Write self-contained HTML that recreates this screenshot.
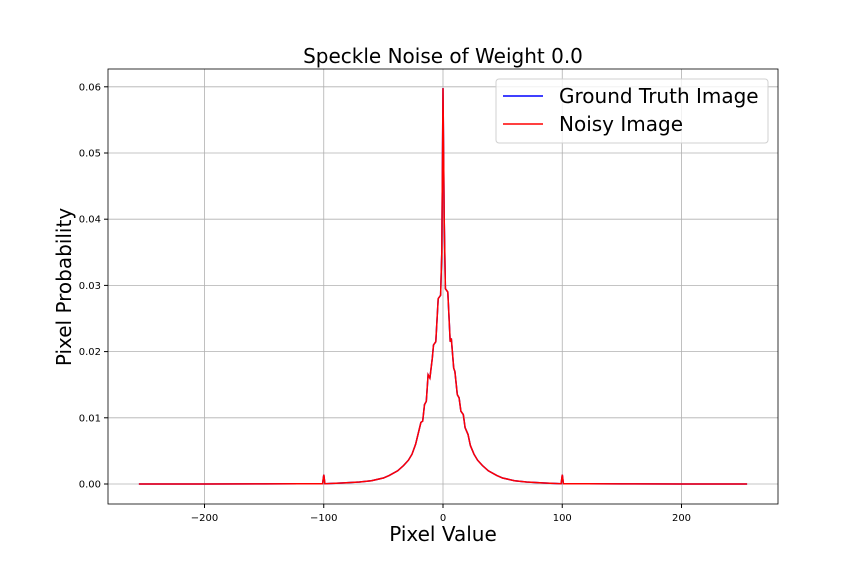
<!DOCTYPE html>
<html><head><meta charset="utf-8"><style>
body{margin:0;background:#fff;}
svg text{font-family:"DejaVu Sans","Liberation Sans",sans-serif;}
</style></head><body>
<svg width="864" height="576">
<g id="grid"></g><g id="series"></g><g id="axes"></g>
</svg>
<script>
const xTicks=[-200,-100,0,100,200];
const yTicks=[0.00,0.01,0.02,0.03,0.04,0.05,0.06];
const pxVals=[-255,-200,-150,-120,-101,-100,-99,-85,-70,-60,-50,-45,-38,-33,-29,-26,-23,-21,-18.5,-17,-15.5,-14,-12.5,-11,-9,-8,-6,-4,-2,-1,0,1,2,4,6,7,9,10,12,13.5,15,17,18.5,21,23,26,29,33,38,45,50,60,70,85,99,100,101,120,150,200,255];
const probs=[0,0,0.00001,0.00003,0.00005,0.0014,0.00005,0.00015,0.0003,0.0005,0.0009,0.0013,0.002,0.0028,0.0036,0.0045,0.006,0.0075,0.0093,0.0095,0.012,0.0125,0.0165,0.016,0.019,0.021,0.0215,0.028,0.0285,0.035,0.0598,0.04,0.0295,0.029,0.0215,0.022,0.0175,0.017,0.0135,0.013,0.011,0.0105,0.0085,0.0075,0.0058,0.0045,0.0036,0.0028,0.002,0.0013,0.0009,0.0005,0.0003,0.00015,0.00005,0.0014,0.00005,0.00003,0.00001,0,0];
const L=108,R=778,T=69,B=504;
const X=v=>443+v*1.1925;
const Y=v=>484-v*6620;
const NS="http://www.w3.org/2000/svg";
function mk(p,tag,a,txt){const e=document.createElementNS(NS,tag);for(const k in a)e.setAttribute(k,a[k]);if(txt!==undefined)e.textContent=txt;p.appendChild(e);return e;}
const g=document.getElementById('grid'),s=document.getElementById('series'),ax=document.getElementById('axes');
xTicks.forEach(t=>{const l=mk(g,'line',{x1:X(t),x2:X(t),y1:T,y2:B,stroke:'#b0b0b0','stroke-width':0.8});

mk(ax,'line',{x1:X(t),x2:X(t),y1:B,y2:B+4,stroke:'#000'});
const tx=mk(ax,'text',{x:X(t),y:B+17,'font-size':10,'text-anchor':'middle'},String(t).replace('-','−'));
});
yTicks.forEach(t=>{const l=mk(g,'line',{x1:L,x2:R,y1:Y(t),y2:Y(t),stroke:'#b0b0b0','stroke-width':0.8});

mk(ax,'line',{x1:L-4,x2:L,y1:Y(t),y2:Y(t),stroke:'#000'});
const tx=mk(ax,'text',{x:L-7,y:Y(t)+3.5,'font-size':10,'text-anchor':'end'},t.toFixed(2));
});
const pts=pxVals.map((v,i)=>X(v).toFixed(1)+','+Y(probs[i]).toFixed(1)).join(' ');
const b=mk(s,'polyline',{points:pts,fill:'none',stroke:'#0000ff','stroke-width':1.5});

const r=mk(s,'polyline',{points:pts,fill:'none',stroke:'#ff0000','stroke-width':1.5});

const fr=mk(ax,'rect',{x:L,y:T,width:R-L,height:B-T,fill:'none',stroke:'#000','stroke-width':0.8});

let e=mk(ax,'text',{x:443,y:63,'font-size':20,'text-anchor':'middle'},'Speckle Noise of Weight 0.0');

e=mk(ax,'text',{x:443,y:541,'font-size':20,'text-anchor':'middle'},'Pixel Value');

e=mk(ax,'text',{x:0,y:0,'font-size':20,'text-anchor':'middle',transform:'translate(71,287) rotate(-90)'},'Pixel Probability');

const lg=mk(ax,'g',{});

mk(lg,'rect',{x:496,y:79,width:272,height:64,rx:3,fill:'#fff','fill-opacity':0.8,stroke:'#d0d0d0'});
mk(lg,'line',{x1:503,x2:543,y1:96,y2:96,stroke:'#0000ff','stroke-width':1.5});
e=mk(lg,'text',{x:559,y:103,'font-size':20},'Ground Truth Image');

mk(lg,'line',{x1:503,x2:543,y1:124,y2:124,stroke:'#ff0000','stroke-width':1.5});
e=mk(lg,'text',{x:559,y:131,'font-size':20},'Noisy Image');

</script>
</body></html>
